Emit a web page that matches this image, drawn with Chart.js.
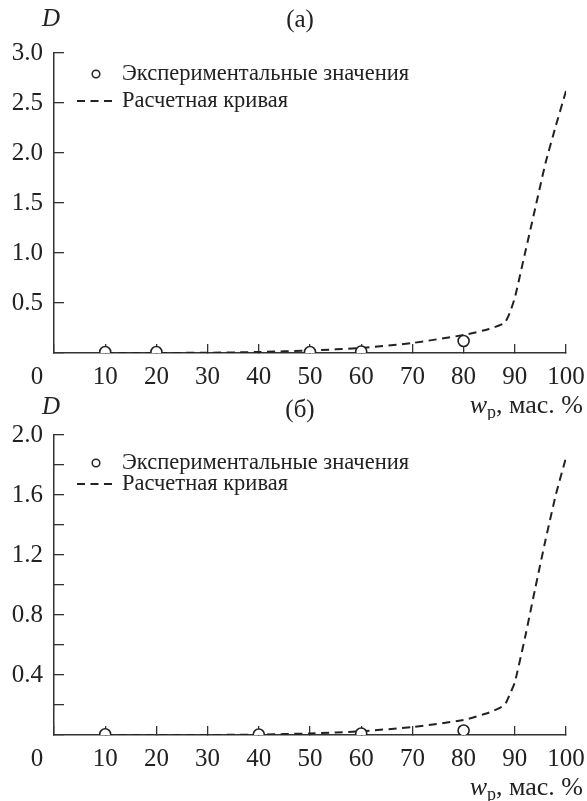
<!DOCTYPE html>
<html>
<head>
<meta charset="utf-8">
<script src="https://cdn.jsdelivr.net/npm/chart.js@4.4.1/dist/chart.umd.min.js"></script>
<style>
    html, body { margin: 0; padding: 0; background: #fff; }
    #wrap { position: relative; width: 587px; height: 801px; }
    .panel { position: absolute; left: 0; width: 587px; }
    #pa { top: 0; height: 420px; }
    #pb { top: 395px; height: 406px; }
</style>
</head>
<body>
<div id="wrap">
    <div class="panel" id="pa"><canvas id="chartA" width="587" height="420"></canvas></div>
    <div class="panel" id="pb"><canvas id="chartB" width="587" height="406"></canvas></div>
</div>
<script>
/************ DATA ************/
const legendLabels = ["Экспериментальные значения", "Расчетная кривая"];
const xTicks = [0, 10, 20, 30, 40, 50, 60, 70, 80, 90, 100];

// panel (а)
const expA_w = [10, 20, 50, 60, 80];
const expA_D = [0.01, 0.01, 0.01, 0.015, 0.12];
const calcA_w = [10, 20, 30, 40, 50, 60, 70, 80, 85, 88, 89, 90, 92, 94, 96, 98, 100];
const calcA_D = [0, 0, 0.003, 0.01, 0.025, 0.05, 0.1, 0.18, 0.24, 0.3, 0.4, 0.55, 1.0, 1.45, 1.9, 2.27, 2.62];
const yTicksA = [0, 0.5, 1.0, 1.5, 2.0, 2.5, 3.0];
const yLabelsA = [0.5, 1.0, 1.5, 2.0, 2.5, 3.0];

// panel (б)
const expB_w = [10, 40, 60, 80];
const expB_D = [0.005, 0.003, 0.01, 0.03];
const calcB_w = [10, 20, 30, 40, 50, 60, 70, 80, 85, 88, 89, 90, 92, 94, 96, 98, 100];
const calcB_D = [0, 0, 0, 0.003, 0.01, 0.025, 0.053, 0.1, 0.15, 0.2, 0.27, 0.35, 0.65, 0.98, 1.3, 1.6, 1.85];
const yTicksB = [0, 0.2, 0.4, 0.6, 0.8, 1.0, 1.2, 1.4, 1.6, 1.8, 2.0];
const yLabelsB = [0.4, 0.8, 1.2, 1.6, 2.0];

/************ STYLE ************/
const SERIF = '"Liberation Serif", "Times New Roman", "DejaVu Serif", serif';
const INK = "#222";
const AXIS = "#333";

/************ TEXT PLUGIN ************/
const annotate = {
    id: "annotate",
    afterDraw(chart, args, o) {
        const ctx = chart.ctx;
        const { left, right } = chart.chartArea;
        ctx.save();
        ctx.fillStyle = INK;
        ctx.strokeStyle = INK;
        ctx.textBaseline = "middle";

        // panel letter
        ctx.font = `25px ${SERIF}`;
        ctx.textAlign = "center";
        ctx.fillText(o.letter, 300, o.letterY);

        // D
        ctx.font = `italic 25px ${SERIF}`;
        ctx.fillText("D", 51, o.dY);

        // corner zero
        ctx.font = `25px ${SERIF}`;
        ctx.fillText("0", left - 17, o.zeroY);

        // axis title  w_p, мас. %
        const tail = ", мас. %";
        ctx.font = `26px ${SERIF}`;
        const wTail = ctx.measureText(tail).width;
        ctx.font = `18px ${SERIF}`;
        const wSub = ctx.measureText("р").width;
        ctx.font = `italic 26px ${SERIF}`;
        const wW = ctx.measureText("w").width;
        let x = right + 17 - wTail - wSub - wW;
        ctx.textAlign = "left";
        ctx.fillText("w", x, o.titleY);
        x += wW;
        ctx.font = `18px ${SERIF}`;
        ctx.fillText("р", x, o.titleY + 7);
        x += wSub;
        ctx.font = `26px ${SERIF}`;
        ctx.fillText(tail, x, o.titleY);

        // legend
        ctx.font = `22.5px ${SERIF}`;
        ctx.lineWidth = 1.5;
        ctx.beginPath();
        ctx.arc(96, o.leg1Y, 3.8, 0, Math.PI * 2);
        ctx.fillStyle = "#fff";
        ctx.fill();
        ctx.stroke();
        ctx.fillStyle = INK;
        ctx.fillText(legendLabels[0], 122, o.leg1Y);

        ctx.lineWidth = 2;
        ctx.setLineDash([8, 5.5]);
        ctx.beginPath();
        ctx.moveTo(77, o.leg2Y);
        ctx.lineTo(112, o.leg2Y);
        ctx.stroke();
        ctx.setLineDash([]);
        ctx.fillText(legendLabels[1], 122, o.leg2Y);

        ctx.restore();
    }
};

/************ CHART BUILDER ************/
function makeChart(id, p) {
    return new Chart(document.getElementById(id), {
        type: "scatter",
        data: {
            datasets: [
                {
                    label: legendLabels[0],
                    data: p.expW.map((w, i) => ({ x: w, y: p.expD[i] })),
                    showLine: false,
                    pointRadius: 5.5,
                    pointBorderWidth: 1.6,
                    pointBackgroundColor: "#fff",
                    pointBorderColor: INK
                },
                {
                    label: legendLabels[1],
                    data: p.calcW.map((w, i) => ({ x: w, y: p.calcD[i] })),
                    showLine: true,
                    pointRadius: 0,
                    borderColor: INK,
                    borderWidth: 2,
                    borderDash: [8, 5.5],
                    tension: 0.15,
                    fill: false
                }
            ]
        },
        options: {
            responsive: false,
            animation: false,
            layout: { padding: { top: p.padTop, right: 21, left: 0, bottom: 0 } },
            plugins: {
                legend: { display: false },
                tooltip: { enabled: false },
                annotate: p.text
            },
            scales: {
                x: {
                    type: "linear",
                    min: 0,
                    max: 100,
                    afterBuildTicks: s => { s.ticks = xTicks.map(v => ({ value: v })); },
                    afterFit: s => { s.height = p.xHeight; s.paddingLeft = 0; s.paddingRight = 0; },
                    border: { display: true, color: AXIS, width: 1.5 },
                    grid: { drawOnChartArea: false, drawTicks: true, tickLength: -9, color: AXIS, lineWidth: 1.3 },
                    ticks: {
                        padding: 18,
                        maxRotation: 0,
                        autoSkip: false,
                        color: INK,
                        font: { family: SERIF, size: 25 },
                        callback: v => (v === 0 ? "" : String(v))
                    }
                },
                y: {
                    min: 0,
                    max: p.yMax,
                    afterBuildTicks: s => { s.ticks = p.yTicks.map(v => ({ value: v })); },
                    afterFit: s => { s.width = 54; s.paddingTop = 0; s.paddingBottom = 0; },
                    border: { display: true, color: AXIS, width: 1.5 },
                    grid: { drawOnChartArea: false, drawTicks: true, tickLength: -10, color: AXIS, lineWidth: 1.3 },
                    ticks: {
                        padding: 21,
                        autoSkip: false,
                        color: INK,
                        font: { family: SERIF, size: 25 },
                        callback: v => (p.yLabels.includes(v) ? v.toFixed(1) : "")
                    }
                }
            }
        },
        plugins: [annotate]
    });
}

/************ INIT ************/
makeChart("chartA", {
    expW: expA_w, expD: expA_D, calcW: calcA_w, calcD: calcA_D,
    yMax: 3, yTicks: yTicksA, yLabels: yLabelsA,
    padTop: 53, xHeight: 67,
    text: { letter: "(а)", letterY: 20, dY: 19, zeroY: 377, titleY: 406, leg1Y: 74, leg2Y: 101 }
});

makeChart("chartB", {
    expW: expB_w, expD: expB_D, calcW: calcB_w, calcD: calcB_D,
    yMax: 2, yTicks: yTicksB, yLabels: yLabelsB,
    padTop: 40, xHeight: 66,
    text: { letter: "(б)", letterY: 15, dY: 12, zeroY: 364, titleY: 393, leg1Y: 68, leg2Y: 89 }
});
</script>
</body>
</html>
